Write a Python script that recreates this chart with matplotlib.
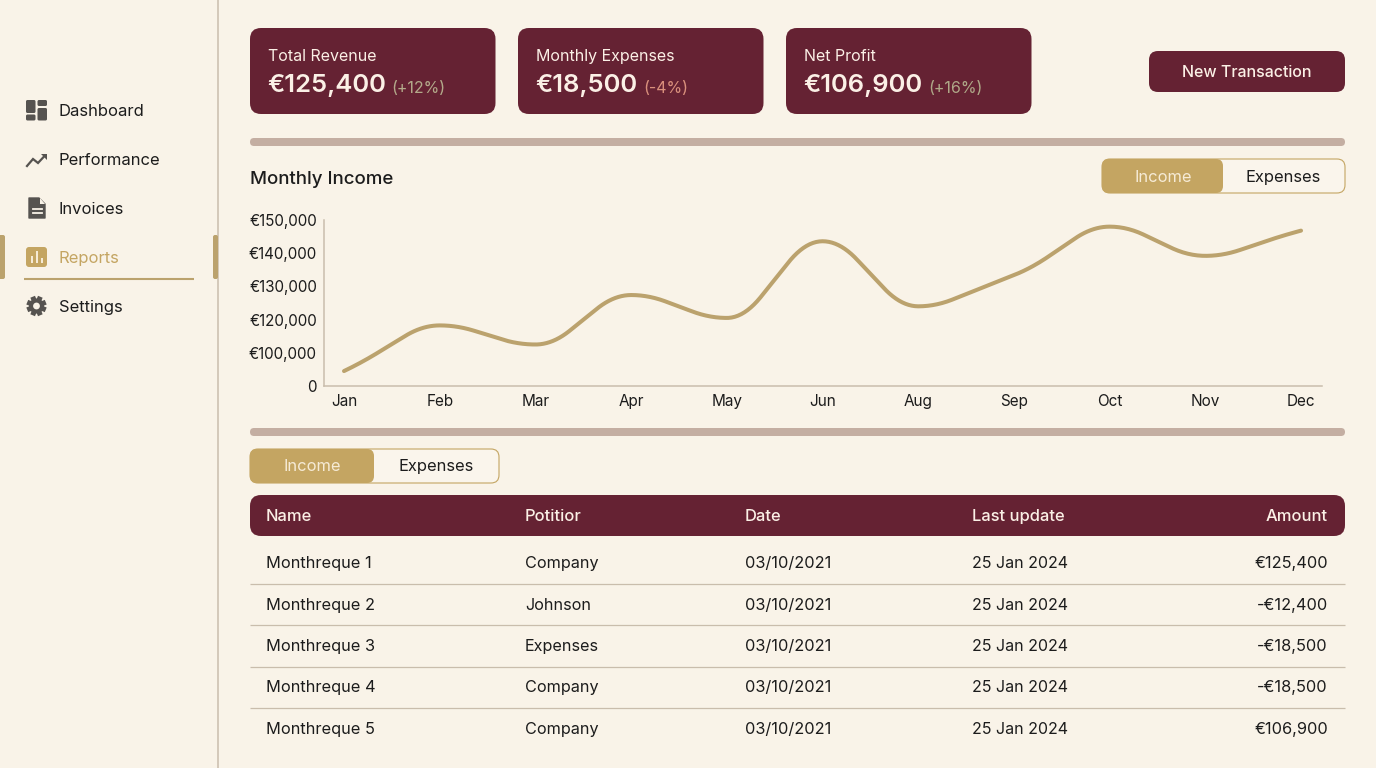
import numpy as np
import matplotlib
matplotlib.use('Agg')
import matplotlib.pyplot as plt
from matplotlib.patches import FancyBboxPatch, Rectangle, Polygon, Circle

plt.rcParams['font.family'] = ['Inter', 'DejaVu Sans']

MONTHS = ['Jan', 'Feb', 'Mar', 'Apr', 'May', 'Jun', 'Aug', 'Sep', 'Oct', 'Nov', 'Dec']
INCOME = [45000, 116500, 105000, 127400, 120500, 143600, 124000, 133400, 148000, 139200, 146800]
Y_TICKS = [0, 100000, 120000, 130000, 140000, 150000]
Y_LABELS = ['0', '€100,000', '€120,000', '€130,000', '€140,000', '€150,000']

NAV_ITEMS = ['Dashboard', 'Performance', 'Invoices', 'Reports', 'Settings']
CARD_TITLES = ['Total Revenue', 'Monthly Expenses', 'Net Profit']
CARD_VALUES = ['€125,400', '€18,500', '€106,900']
CARD_CHANGES = ['(+12%)', '(-4%)', '(+16%)']

TABLE_HEAD = ['Name', 'Potitior', 'Date', 'Last update', 'Amount']
ROW_NAMES = ['Monthreque 1', 'Monthreque 2', 'Monthreque 3', 'Monthreque 4', 'Monthreque 5']
ROW_POTITIOR = ['Company', 'Johnson', 'Expenses', 'Company', 'Company']
ROW_DATES = ['03/10/2021'] * 5
ROW_UPDATES = ['25 Jan 2024'] * 5
ROW_AMOUNTS = ['€125,400', '-€12,400', '-€18,500', '-€18,500', '€106,900']

BG = '#F9F3E8'
WINE = '#652233'
TAN = '#C4A562'
LINE = '#BBA26D'
BAR = '#C4AEA2'
RULE = '#C9BDAC'
INK = '#1C1C1C'
ICON = '#565350'
CREAM = '#FBF0E6'
CHANGE_COLORS = ['#B3A98A', '#D9907C', '#AFA888']

fig = plt.figure(figsize=(13.76, 7.68), dpi=100, facecolor=BG)

# whole figure axes in pixels for the dashboard furniture
ui = fig.add_axes([0, 0, 1, 1])
ui.set_xlim(0, 1376)
ui.set_ylim(768, 0)
ui.axis('off')


def px(size):
    return size * 0.72


def box(x0, y0, x1, y1, color, r=8, edge='none', lw=0, z=2):
    p = FancyBboxPatch((x0, y0), x1 - x0, y1 - y0, boxstyle='round,pad=0,rounding_size=%g' % r,
                       fc=color, ec=edge, lw=lw, zorder=z)
    ui.add_patch(p)


def label(x, y, s, size, color=INK, weight='normal', ha='left'):
    ui.text(x, y, s, fontsize=px(size), color=color, fontweight=weight, ha=ha, va='baseline', zorder=5)


def toggle(x0, x1, split, y0, y1, tx_income, tx_expenses, base):
    box(x0, y0, x1, y1, '#FAF5EC', r=8, edge=TAN, lw=0.8)
    box(x0, y0, split, y1, TAN, r=7, z=3)
    label(tx_income, base, 'Income', 16.5, color='#F6EBD6', ha='center')
    label(tx_expenses, base, 'Expenses', 16.5, ha='center')


### SIDEBAR ###
ui.plot([218, 218], [0, 768], color=RULE, lw=1.1, solid_capstyle='butt')
nav_base = [116, 165, 214, 263, 312]
for name, base in zip(NAV_ITEMS, nav_base):
    label(59, base, name, 16.6, color=TAN if name == 'Reports' else INK)
box(-6, 235, 5, 279, LINE, r=2)
box(213, 235, 218, 279, LINE, r=2)
ui.plot([24, 194], [279, 279], color=LINE, lw=1.5, solid_capstyle='butt')

# dashboard icon
box(26, 100, 35.5, 113, ICON, r=1.5)
box(26, 114.5, 35.5, 120.5, ICON, r=1.5)
box(37.5, 100, 47, 106, ICON, r=1.5)
box(37.5, 108, 47, 120.5, ICON, r=1.5)
# performance icon
ui.plot([27, 33, 38, 45], [166, 159, 163, 155.5], color=ICON, lw=1.6, solid_joinstyle='miter')
ui.add_patch(Polygon([[41, 153.5], [47, 153.5], [47, 159.5]], fc=ICON, ec='none'))
# invoices icon
ui.add_patch(Polygon([[29, 198], [39, 198], [45, 204], [45, 218], [29, 218]], fc=ICON, ec=ICON, lw=1, joinstyle='round'))
ui.add_patch(Polygon([[39.5, 198], [39.5, 203.5], [45, 203.5]], fc=BG, ec='none'))
ui.plot([32.5, 41.5], [208.5, 208.5], color=BG, lw=1.3)
ui.plot([32.5, 41.5], [212.5, 212.5], color=BG, lw=1.3)
# reports icon
box(26, 247, 47, 267, TAN, r=3)
for bx, top in zip([31.5, 36.5, 41.5], [256, 251, 258]):
    ui.add_patch(Rectangle((bx - 1, top), 2, 262.5 - top, fc='#F6EBD6', ec='none', zorder=4))
# settings icon
for a in np.arange(0, 180, 45):
    ca, sa = np.cos(np.radians(a + 22.5)), np.sin(np.radians(a + 22.5))
    ui.plot([36.5 - 10 * ca, 36.5 + 10 * ca], [306 - 10 * sa, 306 + 10 * sa], color=ICON, lw=3.6,
            solid_capstyle='butt')
ui.add_patch(Circle((36.5, 306), 7.5, fc=ICON, ec='none', zorder=3))
ui.add_patch(Circle((36.5, 306), 3.4, fc=BG, ec='none', zorder=4))

### CARDS ###
card_x = [250, 518, 786]
card_w = 245.5
change_x = [391.5, 643, 928.5]
for i in range(3):
    x = card_x[i]
    box(x, 28, x + card_w, 114, WINE, r=11)
    label(x + 18, 61, CARD_TITLES[i], 16, color=CREAM)
    label(x + 17.5, 92, CARD_VALUES[i], 25.6, color=CREAM, weight='semibold')
    label(change_x[i], 93, CARD_CHANGES[i], 16, color=CHANGE_COLORS[i])

box(1149, 51, 1345, 92, WINE, r=9)
label(1247, 77, 'New Transaction', 16, color=CREAM, weight='medium', ha='center')

box(250, 138, 1345, 146, BAR, r=4)
box(250, 428, 1345, 436, BAR, r=4)

label(250, 184, 'Monthly Income', 18.7, weight='medium')
toggle(1102, 1345, 1223, 159, 193, 1163, 1283, 182)
toggle(250, 499, 374, 449, 483, 312, 436, 471)

### TABLE ###
box(250, 495, 1345, 536, WINE, r=11)
col_x = [266, 525, 745, 972]
for x, name in zip(col_x, TABLE_HEAD[:4]):
    label(x, 521, name, 16.5, color=CREAM, weight='medium')
label(1328, 521, TABLE_HEAD[4], 16.5, color=CREAM, weight='medium', ha='right')

row_base = [568, 610, 651, 692, 734]
row_rule = [583.5, 625, 666.5, 707.5]
for i, base in enumerate(row_base):
    label(col_x[0], base, ROW_NAMES[i], 16.4)
    label(col_x[1], base, ROW_POTITIOR[i], 16.2)
    label(col_x[2], base, ROW_DATES[i], 16.4)
    label(col_x[3], base, ROW_UPDATES[i], 16)
    label(1328, base, ROW_AMOUNTS[i], 16.4, ha='right')
for y in row_rule:
    ui.plot([250, 1345], [y, y], color=RULE, lw=0.9, solid_capstyle='butt')

### PLOT ###
# the reference spaces its uneven tick values equally
slots = np.arange(len(Y_TICKS))


def to_slot(v):
    return np.interp(v, Y_TICKS, slots)


def from_slot(s):
    return np.interp(s, slots, Y_TICKS)


ax = fig.add_axes([324 / 1376, 1 - 386 / 768, (1322 - 324) / 1376, (386 - 220) / 768])
ax.patch.set_alpha(0)
ax.set_yscale('function', functions=(to_slot, from_slot))
ax.set_ylim(0, 150000)
ax.set_xlim(-0.209, 10.219)

# line rounding only: straight runs between the read points with eased ends
xs = np.arange(len(INCOME))
ys = to_slot(np.array(INCOME))
d = np.diff(ys)
m = np.zeros(len(ys))
m[0], m[-1] = d[0], d[-1]
for i in range(1, len(ys) - 1):
    if d[i - 1] * d[i] > 0:
        m[i] = 2 * d[i - 1] * d[i] / (d[i - 1] + d[i])
a = 0.36
t = np.linspace(0, 1, 61)
curve_x, curve_y = [], []
for i in range(len(ys) - 1):
    k = (d[i] - a * (m[i] + m[i + 1]) / 2) / (1 - a)
    speed = np.interp(t, [0, a, 1 - a, 1], [m[i], k, k, m[i + 1]])
    steps = (speed[1:] + speed[:-1]) / 2 * np.diff(t)
    curve_x.extend(xs[i] + t)
    curve_y.extend(ys[i] + np.concatenate([[0], np.cumsum(steps)]))
ax.plot(curve_x, from_slot(np.array(curve_y)), color=LINE, lw=2.9, solid_capstyle='round', clip_on=False)

ax.set_xticks(xs)
ax.set_xticklabels(MONTHS)
ax.set_yticks(Y_TICKS)
ax.set_yticklabels(Y_LABELS)
ax.minorticks_off()
ax.tick_params(axis='x', length=0, pad=6, labelsize=px(15.3), labelcolor=INK)
ax.tick_params(axis='y', length=0, pad=5, labelsize=px(15.2), labelcolor=INK)
for side in ['top', 'right']:
    ax.spines[side].set_visible(False)
for side in ['left', 'bottom']:
    ax.spines[side].set_color(RULE)
    ax.spines[side].set_linewidth(1.1)

fig.savefig('out.png', dpi=100, facecolor=BG)
